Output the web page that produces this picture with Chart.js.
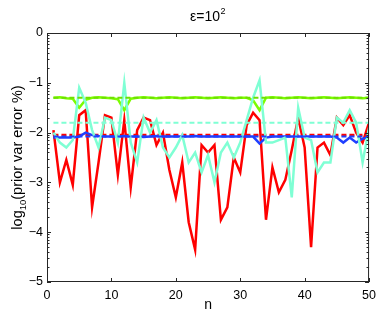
<!DOCTYPE html>
<html lang="en">
<head>
    <meta charset="UTF-8">
    <title>prior var error</title>
    <script src="https://cdn.jsdelivr.net/npm/chart.js"></script>
    <style>
        body {
            margin: 0;
            padding: 0;
            background-color: #fff;
        }
        .chart-container {
            width: 382px;
            height: 317px;
            position: relative;
        }
    </style>
</head>
<body>
    <div class="chart-container">
        <canvas id="errChart"></canvas>
    </div>

    <script>
        const n = [
            1, 2, 3, 4, 5, 6, 7, 8, 9, 10,
            11, 12, 13, 14, 15, 16, 17, 18, 19, 20,
            21, 22, 23, 24, 25, 26, 27, 28, 29, 30,
            31, 32, 33, 34, 35, 36, 37, 38, 39, 40,
            41, 42, 43, 44, 45, 46, 47, 48, 49, 50
        ];

        // solid series, log10 of the error
        const red = [
            -1.95, -3.0, -2.55, -3.05, -1.65, -1.55, -3.5, -2.6, -1.65, -1.7,
            -2.85, -1.75, -3.1, -1.95, -1.7, -1.75, -2.25, -2.0, -2.75, -3.3,
            -2.6, -3.8, -4.35, -2.25, -2.4, -2.25, -3.75, -3.5, -2.5, -2.8,
            -1.85, -1.6, -1.75, -3.75, -2.7, -3.2, -2.95, -2.35, -1.7, -2.3,
            -4.3, -2.3, -2.2, -2.45, -1.7, -1.85, -1.65, -2.0, -2.2, -1.8
        ];
        const cyan = [
            -2.0, -2.2, -2.3, -2.15, -1.1, -1.4, -1.95, -2.3, -1.7, -1.75,
            -2.2, -1.0, -2.2, -2.6, -1.7, -2.0, -1.75, -2.3, -2.5, -2.3,
            -2.05, -2.6, -2.4, -2.8, -2.45, -3.0, -2.4, -2.2, -2.5, -2.2,
            -1.75, -1.3, -0.95, -2.2, -2.2, -2.15, -2.1, -3.3, -1.5, -2.1,
            -2.15, -2.8, -2.6, -2.6, -1.7, -1.8, -1.55, -1.8, -2.6, -1.9
        ];
        const green = [
            -1.3, -1.29, -1.31, -1.32, -1.5, -1.34, -1.3, -1.29, -1.3, -1.31,
            -1.33, -1.55, -1.32, -1.3, -1.29, -1.3, -1.31, -1.3, -1.29, -1.3,
            -1.31, -1.3, -1.29, -1.3, -1.31, -1.3, -1.29, -1.3, -1.31, -1.3,
            -1.3, -1.35, -1.55, -1.3, -1.29, -1.3, -1.31, -1.3, -1.29, -1.3,
            -1.31, -1.3, -1.29, -1.3, -1.31, -1.3, -1.29, -1.3, -1.31, -1.3
        ];
        const blue = [
            -2.1, -2.1, -2.1, -2.1, -2.08, -2.0, -2.05, -2.07, -2.08, -2.08,
            -2.08, -2.07, -2.08, -2.08, -2.09, -2.08, -2.07, -2.08, -2.08, -2.08,
            -2.08, -2.08, -2.07, -2.08, -2.08, -2.08, -2.08, -2.08, -2.08, -2.08,
            -2.08, -2.08, -2.22, -2.1, -2.08, -2.08, -2.08, -2.08, -2.08, -2.08,
            -2.08, -2.08, -2.08, -2.08, -2.1, -2.2, -2.1, -2.2, -2.12, -2.1
        ];

        // dashed reference levels
        const greenLevel = -1.3;
        const cyanLevel = -1.8;
        const blueLevel = -2.08;
        const redLevel = -2.05;

        const xTicks = [0, 10, 20, 30, 40, 50];
        const yTicks = [0, -1, -2, -3, -4, -5];

        const pts = arr => n.map((x, i) => ({ x: x, y: arr[i] }));
        const flat = v => n.map(x => ({ x: x, y: v }));

        const FONT = '"Liberation Sans", Arial, Helvetica, sans-serif';

        // box, inward ticks, log-style minor ticks, title and y label
        const matlabAxes = {
            id: 'matlabAxes',
            afterDraw(chart) {
                const ctx = chart.ctx;
                const a = chart.chartArea;
                const xs = chart.scales.x;
                const ys = chart.scales.y;
                ctx.save();
                ctx.strokeStyle = '#262626';
                ctx.lineWidth = 1;
                ctx.strokeRect(a.left + 0.5, a.top + 0.5, a.right - a.left - 1, a.bottom - a.top - 1);
                ctx.beginPath();
                xTicks.forEach(v => {
                    const px = Math.round(xs.getPixelForValue(v)) + 0.5;
                    ctx.moveTo(px, a.bottom); ctx.lineTo(px, a.bottom - 4);
                    ctx.moveTo(px, a.top); ctx.lineTo(px, a.top + 4);
                });
                yTicks.forEach(v => {
                    const py = Math.round(ys.getPixelForValue(v)) + 0.5;
                    ctx.moveTo(a.left, py); ctx.lineTo(a.left + 4, py);
                    ctx.moveTo(a.right, py); ctx.lineTo(a.right - 4, py);
                });
                for (let d = -5; d < 0; d++) {
                    for (let m = 2; m <= 9; m++) {
                        const py = Math.round(ys.getPixelForValue(d + Math.log10(m))) + 0.5;
                        ctx.moveTo(a.left, py); ctx.lineTo(a.left + 2.5, py);
                        ctx.moveTo(a.right, py); ctx.lineTo(a.right - 2.5, py);
                    }
                }
                ctx.stroke();

                // title with superscript
                ctx.fillStyle = '#000';
                ctx.textBaseline = 'alphabetic';
                ctx.font = '14px ' + FONT;
                const t1 = '\u03b5=10';
                const w1 = ctx.measureText(t1).width;
                const tx = 190;
                ctx.textAlign = 'left';
                ctx.fillText(t1, tx, 21);
                ctx.font = '9px ' + FONT;
                ctx.fillText('2', tx + w1 + 0.5, 14);

                // y label with subscript
                ctx.translate(18, (a.top + a.bottom) / 2);
                ctx.rotate(-Math.PI / 2);
                ctx.font = '14.5px ' + FONT;
                const p1 = 'log', p3 = '(prior var error %)';
                const wp1 = ctx.measureText(p1).width;
                const wp3 = ctx.measureText(p3).width;
                ctx.font = '9.5px ' + FONT;
                const wp2 = ctx.measureText('10').width;
                let cx = -(wp1 + wp2 + wp3) / 2;
                ctx.font = '14.5px ' + FONT;
                ctx.fillText(p1, cx, 4);
                ctx.font = '9.5px ' + FONT;
                ctx.fillText('10', cx + wp1, 8);
                ctx.font = '14.5px ' + FONT;
                ctx.fillText(p3, cx + wp1 + wp2, 4);
                ctx.restore();
            }
        };

        const ctx1 = document.getElementById('errChart').getContext('2d');
        const errChart = new Chart(ctx1, {
            type: 'line',
            data: {
                datasets: [
                    { data: flat(greenLevel), borderColor: '#6ee000', borderWidth: 2, borderDash: [5, 3] },
                    { data: flat(cyanLevel), borderColor: '#7fffd4', borderWidth: 2, borderDash: [5, 3] },
                    { data: flat(blueLevel), borderColor: '#1f3fff', borderWidth: 2, borderDash: [5, 3] },
                    { data: pts(cyan), borderColor: '#7fffd4', borderWidth: 2.5 },
                    { data: pts(green), borderColor: '#7cfc00', borderWidth: 2.5 },
                    { data: pts(blue), borderColor: '#1f3fff', borderWidth: 2.5 },
                    { data: pts(red), borderColor: '#ff0000', borderWidth: 2.5 },
                    { data: flat(redLevel), borderColor: '#ff0000', borderWidth: 2.5, borderDash: [5, 3] }
                ]
            },
            options: {
                responsive: true,
                maintainAspectRatio: false,
                animation: false,
                layout: { padding: { left: 0, right: 10, top: 33, bottom: 0 } },
                elements: { point: { radius: 0 }, line: { tension: 0, fill: false } },
                plugins: { legend: { display: false }, tooltip: { enabled: false }, title: { display: false } },
                scales: {
                    x: {
                        type: 'linear', min: 0, max: 50,
                        afterFit: s => { s.height = 35; },
                        afterBuildTicks: s => { s.ticks = xTicks.map(v => ({ value: v })); },
                        grid: { display: false, drawTicks: false },
                        border: { display: false },
                        ticks: { color: '#000', font: { family: FONT, size: 12.5 }, padding: 6, maxRotation: 0 },
                        title: { display: true, text: 'n', color: '#000', font: { family: FONT, size: 14 }, padding: { top: 0, bottom: 3 } }
                    },
                    y: {
                        type: 'linear', min: -5, max: 0,
                        afterFit: s => { s.width = 47; },
                        afterBuildTicks: s => { s.ticks = yTicks.map(v => ({ value: v })); },
                        grid: { display: false, drawTicks: false },
                        border: { display: false },
                        ticks: {
                            color: '#000', font: { family: FONT, size: 12.5 }, padding: 4,
                            callback: v => v < 0 ? '\u2212' + Math.abs(v) : String(v)
                        }
                    }
                }
            },
            plugins: [matlabAxes]
        });
    </script>
</body>
</html>
